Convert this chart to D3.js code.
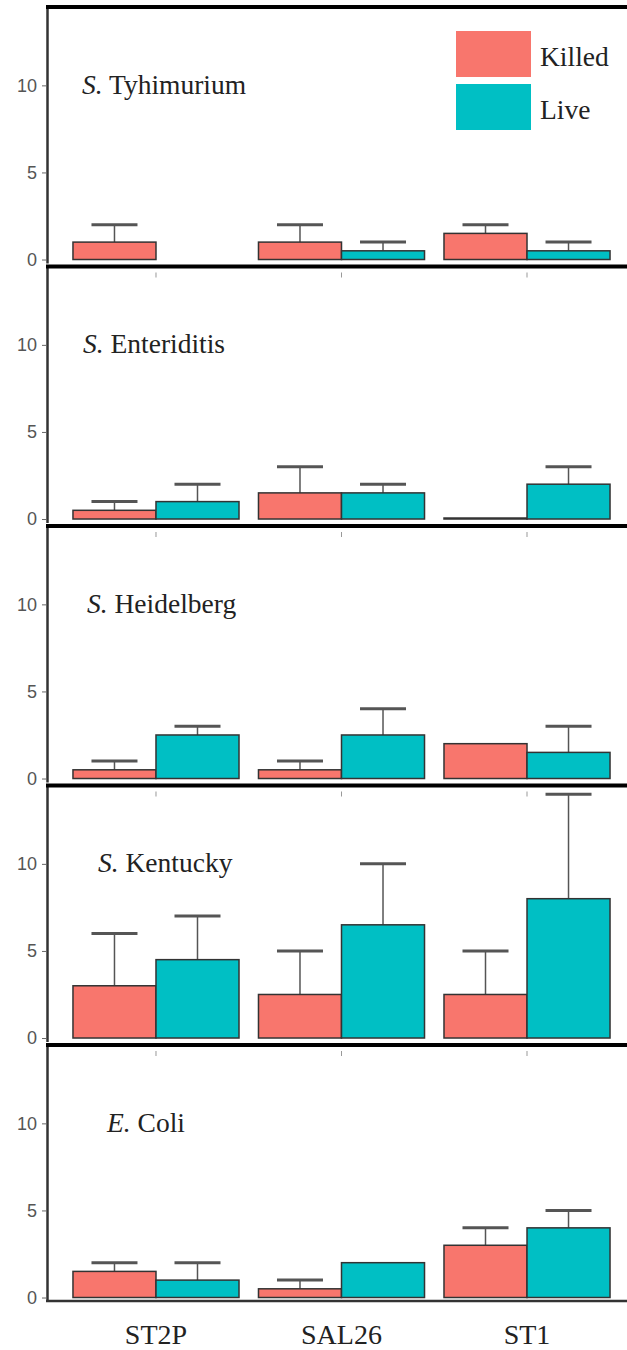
<!DOCTYPE html>
<meta charset="utf-8">
<style>
body { margin: 0; background: #fff; }
</style>
<body>
<script src="https://cdn.jsdelivr.net/npm/d3@7"></script>
<div id="content"></div>
<script>
var width = 627,
    height = 1350;

// data
var groups = ["ST2P", "SAL26", "ST1"];
var series = ["Killed", "Live"];
var genus = ["S.", "S.", "S.", "S.", "E."];
var species = ["Tyhimurium", "Enteriditis", "Heidelberg", "Kentucky", "Coli"];
var killedMean  = [[1, 1, 1.5], [0.5, 1.5, 0], [0.5, 0.5, 2], [3, 2.5, 2.5], [1.5, 0.5, 3]];
var killedUpper = [[2, 2, 2], [1, 3, null], [1, 1, null], [6, 5, 5], [2, 1, 4]];
var liveMean    = [[null, 0.5, 0.5], [1, 1.5, 2], [2.5, 2.5, 1.5], [4.5, 6.5, 8], [1, 2, 4]];
var liveUpper   = [[null, 1, 1], [2, 2, 3], [3, 4, 3], [7, 10, 14], [2, null, 5]];
var yTicks = [0, 5, 10];

var colors = {"Killed": "#F8766D", "Live": "#00BFC4"};
var serif = "'Liberation Serif', 'Times New Roman', 'DejaVu Serif', serif";

// layout
var panelTop = 7, panelStep = 259.5, panelH = 256;
var titleX = [82, 83, 87, 98, 107];

var svg = d3.select("#content").append("svg")
    .attr("width", width)
    .attr("height", height);

var x = d3.scaleBand().domain(groups).range([47, 636])
    .paddingInner(0.105).paddingOuter(0.14);
var xs = d3.scaleBand().domain(series).range([0, x.bandwidth()]);
var y = d3.scaleLinear().domain([-0.2, 14.5]).range([panelH, 0]);

species.forEach(function(name, k) {
  var g = svg.append("g")
      .attr("transform", "translate(0," + (panelTop + k * panelStep) + ")");

  var rows = [];
  groups.forEach(function(grp, i) {
    rows.push({group: grp, s: "Killed", mean: killedMean[k][i], upper: killedUpper[k][i]});
    rows.push({group: grp, s: "Live", mean: liveMean[k][i], upper: liveUpper[k][i]});
  });
  rows = rows.filter(function(d) { return d.mean !== null; });

  // error bars
  var eb = rows.filter(function(d) { return d.upper !== null; });
  var cx = function(d) { return x(d.group) + xs(d.s) + xs.bandwidth() / 2; };
  g.selectAll(".evert").data(eb).enter().append("line")
      .attr("x1", cx).attr("x2", cx)
      .attr("y1", function(d) { return y(d.mean); })
      .attr("y2", function(d) { return y(d.upper); })
      .style("stroke", "#555").style("stroke-width", 1.5);
  g.selectAll(".ecap").data(eb).enter().append("line")
      .attr("x1", function(d) { return cx(d) - 23; })
      .attr("x2", function(d) { return cx(d) + 23; })
      .attr("y1", function(d) { return y(d.upper); })
      .attr("y2", function(d) { return y(d.upper); })
      .style("stroke", "#555").style("stroke-width", 3);

  // bars (a zero value still shows as a flat outline)
  g.selectAll(".bar").data(rows).enter().append("rect")
      .attr("x", function(d) { return x(d.group) + xs(d.s); })
      .attr("width", xs.bandwidth())
      .attr("y", function(d) { return Math.min(y(d.mean), y(0) - 1); })
      .attr("height", function(d) { return Math.max(y(0) - y(d.mean), 1); })
      .style("fill", function(d) { return colors[d.s]; })
      .style("stroke", "#333").style("stroke-width", 1.5);

  // y axis
  var ax = g.append("g")
      .attr("transform", "translate(47,0)")
      .call(d3.axisLeft(y).tickValues(yTicks).tickSize(5).tickSizeOuter(0).tickPadding(5));
  ax.select(".domain").style("stroke", "#333").style("stroke-width", 2.5);
  ax.selectAll(".tick line").style("stroke", "#666");
  ax.selectAll(".tick text")
      .style("font-family", "'Liberation Sans', sans-serif")
      .style("font-size", "18px").style("fill", "#555");

  // top border
  g.append("line").attr("x1", 46).attr("x2", width)
      .attr("y1", 0).attr("y2", 0)
      .style("stroke", "#000").style("stroke-width", 4);

  // small ticks under the separator
  if (k > 0) {
    g.selectAll(".xt").data(groups).enter().append("line")
        .attr("x1", function(d) { return x(d) + x.bandwidth() / 2; })
        .attr("x2", function(d) { return x(d) + x.bandwidth() / 2; })
        .attr("y1", 6).attr("y2", 11)
        .style("stroke", "#999").style("stroke-width", 1);
  }

  // title
  var t = g.append("text")
      .attr("x", titleX[k]).attr("y", y(0) - 166)
      .style("font-family", serif).style("font-size", "27.5px").style("fill", "#222");
  t.append("tspan").style("font-style", "italic").text(genus[k]);
  t.append("tspan").text(" " + name);

  // legend
  if (k === 0) {
    var lg = g.selectAll(".leg").data(series).enter().append("g")
        .attr("transform", function(d, i) { return "translate(456," + (24 + i * 53) + ")"; });
    lg.append("rect").attr("width", 75).attr("height", 46)
        .style("fill", function(d) { return colors[d]; });
    lg.append("text")
        .attr("x", 84).attr("y", 35)
        .style("font-family", serif).style("font-size", "27.5px").style("fill", "#222")
        .text(function(d) { return d; });
  }

  // bottom axis for the last panel
  if (k === species.length - 1) {
    var bx = g.append("g").attr("transform", "translate(0," + panelH + ")")
        .call(d3.axisBottom(x).tickSize(0).tickPadding(14));
    bx.select(".domain").remove();
    g.append("line").attr("x1", 46).attr("x2", width)
        .attr("y1", panelH).attr("y2", panelH)
        .style("stroke", "#333").style("stroke-width", 2.5);
    bx.selectAll("text")
        .style("font-family", serif).style("font-size", "28px").style("fill", "#222")
        .attr("dy", "1.05em");
  }
});
</script>
